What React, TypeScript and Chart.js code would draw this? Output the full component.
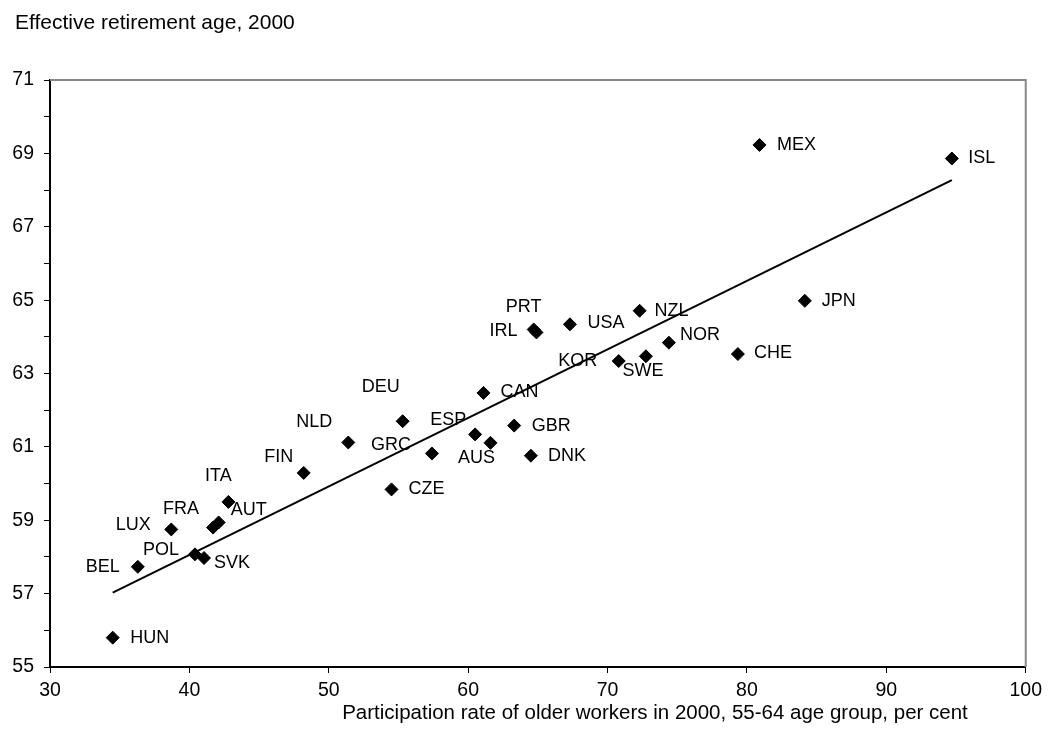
import React, { useEffect, useRef } from "react";
import { Chart, registerables } from "chart.js";

Chart.register(...registerables);

const countries = ["HUN","BEL","LUX","FRA","AUT","ITA","POL","SVK","FIN","NLD","DEU","GRC","CZE","ESP","AUS","CAN","GBR","DNK","PRT","IRL","USA","NZL","KOR","SWE","NOR","CHE","JPN","MEX","ISL"];
const participation = [34.5,36.3,38.7,41.7,42.1,42.8,40.4,41.05,48.2,51.4,55.3,57.4,54.5,60.5,61.6,61.1,63.3,64.5,64.7,64.9,67.3,72.3,70.8,72.75,74.4,79.35,84.15,80.9,94.7];
const retirementAge = [55.8,57.73,58.75,58.8,58.94,59.5,58.07,57.97,60.29,61.12,61.7,60.82,59.84,61.34,61.11,62.47,61.58,60.76,64.2,64.12,64.34,64.71,63.34,63.47,63.84,63.53,64.98,69.23,68.86];
const trendX = [34.5, 94.7];
const trendY = [57.03, 68.27];
const xTicks = [30, 40, 50, 60, 70, 80, 90, 100];
const yTickLabels = [55, 57, 59, 61, 63, 65, 67, 69, 71];

// label placement offsets (px) relative to each marker (centre of text)
const labelOffsets: [number, number][] = [
  [37,0],[-35,0],[-38,-4],[-32,-19],[30,-12],[-10,-26],[-34,-4],[28,5],[-25,-16],[-34,-20],
  [-22,-34],[-41,-8],[35,0],[-27,-14],[-14,15],[36,-1],[37,0],[36,0],[-10,-22],[-33,-1],
  [36,-1],[32,0],[-41,0],[-3,15],[31,-8],[35,-1],[34,0],[37,0],[30,0]
];

const FONT = "'Liberation Sans', Arial, sans-serif";

const decorPlugin = {
  id: "decor",
  beforeDatasetsDraw(chart: any) {
    const { ctx, chartArea } = chart;
    ctx.save();
    ctx.strokeStyle = "#888888";
    ctx.lineWidth = 2;
    ctx.beginPath();
    ctx.moveTo(chartArea.left, chartArea.top);
    ctx.lineTo(chartArea.right, chartArea.top);
    ctx.lineTo(chartArea.right, chartArea.bottom);
    ctx.stroke();
    ctx.restore();
  },
  afterDatasetsDraw(chart: any) {
    const { ctx } = chart;
    const meta = chart.getDatasetMeta(0);
    ctx.save();
    ctx.fillStyle = "#000";
    ctx.font = `18px ${FONT}`;
    ctx.textAlign = "center";
    ctx.textBaseline = "middle";
    meta.data.forEach((pt: any, i: number) => {
      const [dx, dy] = labelOffsets[i];
      ctx.fillText(countries[i], pt.x + dx, pt.y + dy);
    });
    ctx.font = `21px ${FONT}`;
    ctx.textAlign = "left";
    ctx.textBaseline = "alphabetic";
    ctx.fillText("Effective retirement age, 2000", 15, 29);
    ctx.font = `20.5px ${FONT}`;
    ctx.textAlign = "center";
    ctx.fillText("Participation rate of older workers in 2000, 55-64 age group, per cent", 655, 719);
    ctx.restore();
  },
};

export default function App() {
  const ref = useRef<HTMLCanvasElement>(null);
  useEffect(() => {
    if (!ref.current) return;
    const chart = new Chart(ref.current, {
      type: "scatter",
      data: {
        datasets: [
          {
            data: participation.map((x, i) => ({ x, y: retirementAge[i] })),
            pointStyle: "rectRot",
            pointRadius: 6.5,
            pointBackgroundColor: "#000",
            pointBorderColor: "#000",
            pointBorderWidth: 1,
            showLine: false,
          },
          {
            type: "line",
            data: trendX.map((x, i) => ({ x, y: trendY[i] })),
            borderColor: "#000",
            borderWidth: 2,
            pointRadius: 0,
            showLine: true,
            fill: false,
          } as any,
        ],
      },
      options: {
        responsive: false,
        animation: false,
        layout: { padding: { left: 0, top: 80, right: 22, bottom: 0 } },
        plugins: { legend: { display: false }, tooltip: { enabled: false }, title: { display: false } },
        scales: {
          x: {
            type: "linear",
            min: 30,
            max: 100,
            afterBuildTicks: (s: any) => { s.ticks = xTicks.map((v) => ({ value: v })); },
            afterFit: (s: any) => { s.height = 84; },
            grid: { drawOnChartArea: false, drawTicks: true, tickLength: 6, color: "#000", lineWidth: 1 },
            border: { display: true, color: "#000", width: 2 },
            ticks: { color: "#000", font: { family: FONT, size: 19.5 }, padding: 6, maxRotation: 0, autoSkip: false },
          },
          y: {
            type: "linear",
            min: 55,
            max: 71,
            afterBuildTicks: (s: any) => {
              const t: any[] = [];
              for (let v = 55; v <= 71; v++) t.push({ value: v });
              s.ticks = t;
            },
            afterFit: (s: any) => { s.width = 50; },
            grid: { drawOnChartArea: false, drawTicks: true, tickLength: 6, color: "#000", lineWidth: 1 },
            border: { display: true, color: "#000", width: 2 },
            ticks: {
              color: "#000",
              font: { family: FONT, size: 19.5 },
              padding: 10,
              autoSkip: false,
              callback: (v: any) => (yTickLabels.includes(Number(v)) ? String(v) : ""),
            },
          },
        },
      },
      plugins: [decorPlugin],
    });
    return () => chart.destroy();
  }, []);
  return (
    <div style={{ position: "fixed", left: 0, top: 0, width: 1048, height: 751, background: "#fff" }}>
      <canvas ref={ref} width={1048} height={751} style={{ width: 1048, height: 751 }} />
    </div>
  );
}
